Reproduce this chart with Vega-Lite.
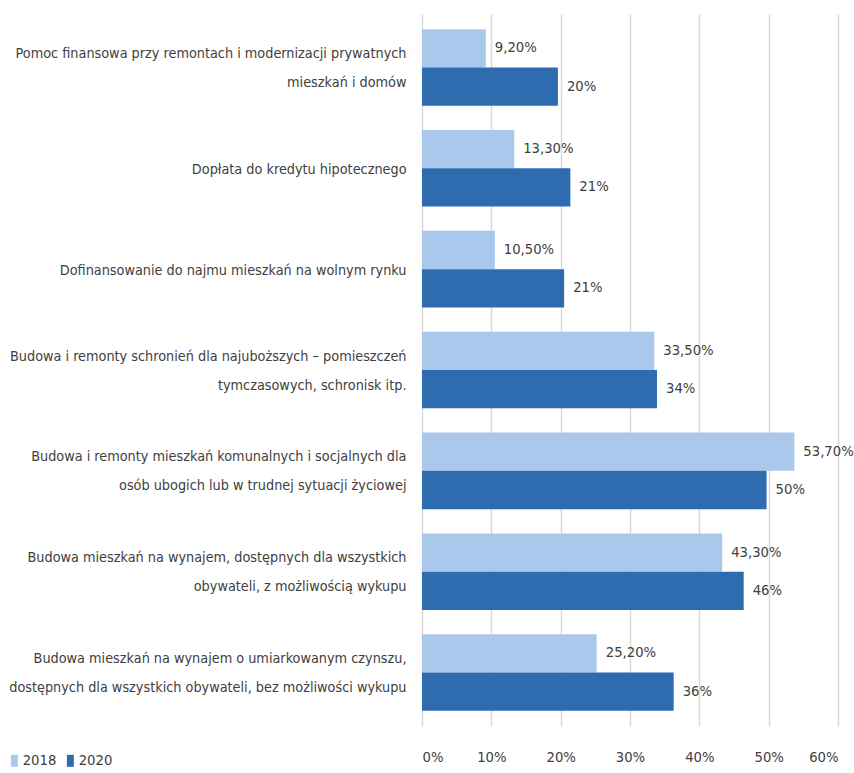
{
  "$schema": "https://vega.github.io/schema/vega-lite/v6.json",
  "width": 416,
  "height": 712,
  "autosize": {"type": "none"},
  "padding": {"left": 422, "top": 14, "right": 16, "bottom": 47},
  "background": "white",
  "config": {
    "font": "'DejaVu Sans Condensed', Roboto",
    "view": {"stroke": null}
  },
  "data": {
    "values": [
      {"category": "Pomoc finansowa przy remontach i modernizacji prywatnych|mieszkań i domów", "year": "2018", "value": 9.2, "label": "9,20%"},
      {"category": "Pomoc finansowa przy remontach i modernizacji prywatnych|mieszkań i domów", "year": "2020", "value": 19.6, "label": "20%"},
      {"category": "Dopłata do kredytu hipotecznego", "year": "2018", "value": 13.3, "label": "13,30%"},
      {"category": "Dopłata do kredytu hipotecznego", "year": "2020", "value": 21.4, "label": "21%"},
      {"category": "Dofinansowanie do najmu mieszkań na wolnym rynku", "year": "2018", "value": 10.5, "label": "10,50%"},
      {"category": "Dofinansowanie do najmu mieszkań na wolnym rynku", "year": "2020", "value": 20.5, "label": "21%"},
      {"category": "Budowa i remonty schronień dla najuboższych – pomieszczeń|tymczasowych, schronisk itp.", "year": "2018", "value": 33.5, "label": "33,50%"},
      {"category": "Budowa i remonty schronień dla najuboższych – pomieszczeń|tymczasowych, schronisk itp.", "year": "2020", "value": 33.9, "label": "34%"},
      {"category": "Budowa i remonty mieszkań komunalnych i socjalnych dla|osób ubogich lub w trudnej sytuacji życiowej", "year": "2018", "value": 53.7, "label": "53,70%"},
      {"category": "Budowa i remonty mieszkań komunalnych i socjalnych dla|osób ubogich lub w trudnej sytuacji życiowej", "year": "2020", "value": 49.7, "label": "50%"},
      {"category": "Budowa mieszkań na wynajem, dostępnych dla wszystkich|obywateli, z możliwością wykupu", "year": "2018", "value": 43.3, "label": "43,30%"},
      {"category": "Budowa mieszkań na wynajem, dostępnych dla wszystkich|obywateli, z możliwością wykupu", "year": "2020", "value": 46.4, "label": "46%"},
      {"category": "Budowa mieszkań na wynajem o umiarkowanym czynszu,|dostępnych dla wszystkich obywateli, bez możliwości wykupu", "year": "2018", "value": 25.2, "label": "25,20%"},
      {"category": "Budowa mieszkań na wynajem o umiarkowanym czynszu,|dostępnych dla wszystkich obywateli, bez możliwości wykupu", "year": "2020", "value": 36.3, "label": "36%"}
    ]
  },
  "encoding": {
    "y": {
      "field": "category",
      "type": "nominal",
      "sort": null,
      "scale": {"paddingInner": 0.24, "paddingOuter": 0.15},
      "axis": {
        "title": null,
        "labelExpr": "split(datum.value, '|')",
        "labelFontSize": 14.3,
        "labelLineHeight": 29,
        "labelColor": "#404040",
        "labelPadding": 16,
        "labelLimit": 0,
        "labelOffset": {"condition": {"test": "indexof(datum.value, '|') >= 0", "value": -13.5}, "value": 2},
        "ticks": false,
        "domain": false
      }
    },
    "yOffset": {"field": "year", "type": "nominal", "scale": {"paddingInner": 0, "paddingOuter": 0}},
    "x": {
      "field": "value",
      "type": "quantitative",
      "scale": {"domain": [0, 60]},
      "axis": {
        "title": null,
        "values": [0, 10, 20, 30, 40, 50, 60],
        "labelExpr": "datum.value + '%'",
        "labelFontSize": 14.7,
        "labelColor": "#404040",
        "labelPadding": 23,
        "ticks": false,
        "domain": false,
        "grid": true,
        "gridColor": "#d9d9d9",
        "gridWidth": 1.5
      }
    }
  },
  "layer": [
    {
      "mark": {"type": "bar"},
      "encoding": {
        "color": {
          "field": "year",
          "type": "nominal",
          "scale": {"domain": ["2018", "2020"], "range": ["#A9C8EB", "#2E6BAF"]},
          "legend": {
            "title": null,
            "orient": "none",
            "direction": "horizontal",
            "legendX": -415,
            "legendY": 739,
            "padding": 0,
            "symbolType": "M-0.58,-1H0.58V1H-0.58Z",
            "symbolSize": 144,
            "symbolStrokeWidth": 0,
            "labelFontSize": 14.7,
            "labelColor": "#404040",
            "labelOffset": 1,
            "columnPadding": 6
          }
        }
      }
    },
    {
      "mark": {"type": "text", "align": "left", "baseline": "middle", "dx": 9, "fontSize": 14.7, "color": "#404040"},
      "encoding": {
        "text": {"field": "label"}
      }
    }
  ]
}
